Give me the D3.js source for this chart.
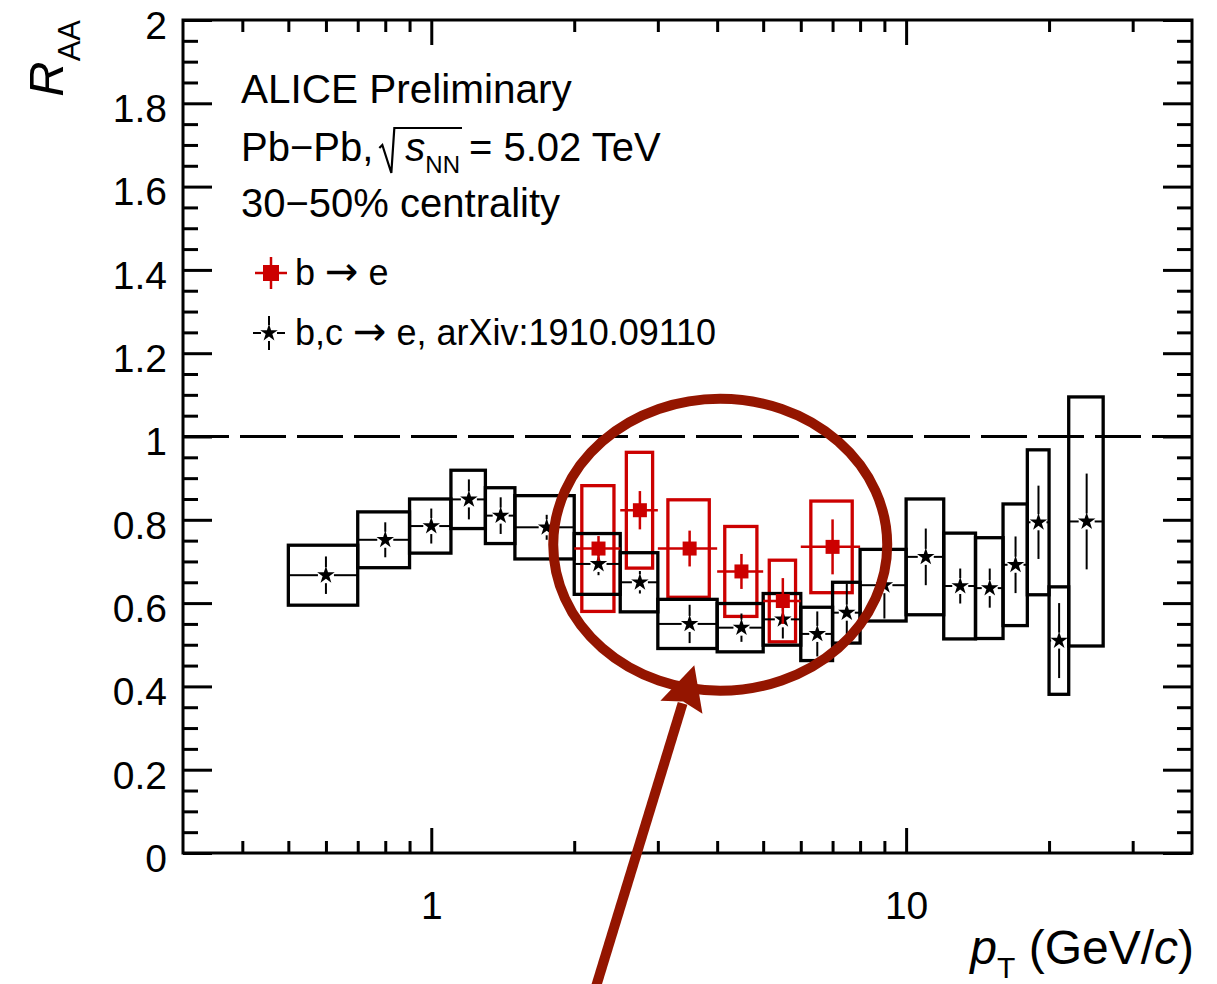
<!DOCTYPE html>
<html><head><meta charset="utf-8">
<script src="https://cdn.jsdelivr.net/npm/d3@7"></script>
<style>
html,body{margin:0;padding:0;background:#fff;}
svg{display:block;}
text{font-family:"Liberation Sans",Arial,Helvetica,sans-serif;fill:#000;}
</style></head><body>
<svg id="chart" width="1217" height="984"></svg>
<script>
// ---------- data ----------
// b,c -> e (arXiv:1910.09110), 30-50%
const bcBinLow  = [0.5,0.7,0.9,1.1,1.3,1.5,2,2.5,3,4,5,6,7,8,10,12,14,16,18,20,22];
const bcBinHigh = [0.7,0.9,1.1,1.3,1.5,2,2.5,3,4,5,6,7,8,10,12,14,16,18,20,22,26];
const bcRAA  = [0.667,0.752,0.785,0.849,0.810,0.782,0.694,0.650,0.550,0.541,0.561,0.526,0.577,0.643,0.711,0.641,0.636,0.692,0.794,0.510,0.796];
const bcStat = [0.045,0.042,0.042,0.048,0.044,0.030,0.027,0.027,0.046,0.034,0.046,0.054,0.070,0.080,0.068,0.042,0.047,0.068,0.088,0.090,0.115];
const bcSyst = [0.072,0.067,0.065,0.070,0.067,0.076,0.073,0.071,0.059,0.058,0.062,0.064,0.073,0.086,0.139,0.127,0.121,0.146,0.174,0.129,0.299];
// b -> e
const bBinLow  = [2,2.5,3,4,5,6];
const bBinHigh = [2.5,3,4,5,6,8];
const bRAA  = [0.731,0.823,0.731,0.676,0.605,0.735];
const bStat = [0.030,0.046,0.043,0.042,0.055,0.066];
const bSyst = [0.151,0.139,0.117,0.108,0.098,0.110];

const xDomain = [0.3, 40];
const yDomain = [0, 2];
const xMajorTicks = [1, 10];
const xTickLabels = ["1", "10"];
const xMinorTicks = [0.4,0.5,0.6,0.7,0.8,0.9,2,3,4,5,6,7,8,9,20,30];
const yMajorTicks = [0,0.2,0.4,0.6,0.8,1,1.2,1.4,1.6,1.8,2];
const yTickLabels = ["0","0.2","0.4","0.6","0.8","1","1.2","1.4","1.6","1.8","2"];
const yMinorTicks = [0.05,0.1,0.15,0.25,0.3,0.35,0.45,0.5,0.55,0.65,0.7,0.75,0.85,0.9,0.95,1.05,1.1,1.15,1.25,1.3,1.35,1.45,1.5,1.55,1.65,1.7,1.75,1.85,1.9,1.95];
const refLine = 1;
const infoLines = ["ALICE Preliminary", "30\u221250% centrality"];
const legendParts = [["b ", "\u2192", " e"], ["b,c ", "\u2192", " e, arXiv:1910.09110"]];
// annotation (data coords): ellipse centre and arrow tail/tip
const annotEllipse = {pt: 4.06, r: 0.74};
const annotArrow = {fromPt: 2.21, fromR: -0.33, toPt: 3.58, toR: 0.451};

// ---------- setup ----------
const FONT = '"Liberation Sans",Arial,Helvetica,sans-serif';
const RED = "#cc0000", DARKRED = "#941500";
const svg = d3.select("#chart");
const L = 183, R = 1192, T = 20, B = 853;
const x = d3.scaleLog().domain(xDomain).range([L, R]);
const y = d3.scaleLinear().domain(yDomain).range([B, T]);
const boxFrac = 0.7;

function styleAxis(g, fs) {
  g.attr("font-family", FONT).attr("font-size", fs || 39);
  g.select(".domain").remove();
  g.selectAll(".tick line").attr("stroke", "#000").attr("stroke-width", 3);
  g.selectAll(".tick text").attr("fill", "#000");
}

// axes
svg.append("g").attr("transform", `translate(0,${B})`)
  .call(d3.axisBottom(x).tickValues(xMajorTicks).tickSize(-25).tickPadding(38).tickFormat((d,i)=>xTickLabels[i]))
  .call(styleAxis);
svg.append("g").attr("transform", `translate(0,${B})`)
  .call(d3.axisBottom(x).tickValues(xMinorTicks).tickSize(-12).tickFormat(""))
  .call(styleAxis);
svg.append("g").attr("transform", `translate(0,${T})`)
  .call(d3.axisTop(x).tickValues(xMajorTicks).tickSize(-25).tickFormat(""))
  .call(styleAxis);
svg.append("g").attr("transform", `translate(0,${T})`)
  .call(d3.axisTop(x).tickValues(xMinorTicks).tickSize(-12).tickFormat(""))
  .call(styleAxis);
const yl = svg.append("g").attr("transform", `translate(${L},0)`)
  .call(d3.axisLeft(y).tickValues(yMajorTicks).tickSize(-29).tickPadding(16).tickFormat((d,i)=>yTickLabels[i]))
  .call(styleAxis);
yl.selectAll(".tick text").attr("dy", "0.47em");
svg.append("g").attr("transform", `translate(${L},0)`)
  .call(d3.axisLeft(y).tickValues(yMinorTicks).tickSize(-15).tickFormat(""))
  .call(styleAxis);
svg.append("g").attr("transform", `translate(${R},0)`)
  .call(d3.axisRight(y).tickValues(yMajorTicks).tickSize(-29).tickFormat(""))
  .call(styleAxis);
svg.append("g").attr("transform", `translate(${R},0)`)
  .call(d3.axisRight(y).tickValues(yMinorTicks).tickSize(-15).tickFormat(""))
  .call(styleAxis);

svg.append("rect").attr("x", L).attr("y", T).attr("width", R - L).attr("height", B - T)
  .attr("fill", "none").attr("stroke", "#000").attr("stroke-width", 3);

// reference line
svg.append("line").attr("x1", x(xDomain[0])).attr("x2", x(xDomain[1]))
  .attr("y1", y(refLine)).attr("y2", y(refLine))
  .attr("stroke", "#000").attr("stroke-width", 3).attr("stroke-dasharray", "46,11");

// data tables
const bc = bcRAA.map((v,i)=>({lo:bcBinLow[i], hi:bcBinHigh[i], c:(bcBinLow[i]+bcBinHigh[i])/2, v, stat:bcStat[i], syst:bcSyst[i]}));
const bb = bRAA.map((v,i)=>({lo:bBinLow[i], hi:bBinHigh[i], c:(bBinLow[i]+bBinHigh[i])/2, v, stat:bStat[i], syst:bSyst[i]}));

// red systematic boxes
svg.append("g").selectAll("rect").data(bb).join("rect")
  .attr("x", d => x(d.c - boxFrac*(d.hi-d.lo)/2))
  .attr("width", d => x(d.c + boxFrac*(d.hi-d.lo)/2) - x(d.c - boxFrac*(d.hi-d.lo)/2))
  .attr("y", d => y(d.v + d.syst)).attr("height", d => y(d.v - d.syst) - y(d.v + d.syst))
  .attr("fill", "none").attr("stroke", RED).attr("stroke-width", 3.3);

// black systematic boxes
svg.append("g").selectAll("rect").data(bc).join("rect")
  .attr("x", d => x(d.lo)).attr("width", d => x(d.hi) - x(d.lo))
  .attr("y", d => y(d.v + d.syst)).attr("height", d => y(d.v - d.syst) - y(d.v + d.syst))
  .attr("fill", "none").attr("stroke", "#000").attr("stroke-width", 3.3);

// black stat errors (with gap around marker)
const gap = 8;
const gE = svg.append("g").attr("stroke", "#000").attr("stroke-width", 2);
bc.forEach(d => {
  const cx = x(d.c), cy = y(d.v);
  const segs = [
    [x(d.lo), cy, cx - gap, cy], [cx + gap, cy, x(d.hi), cy],
    [cx, y(d.v + d.stat), cx, cy - gap], [cx, cy + gap, cx, y(d.v - d.stat)]
  ];
  segs.forEach(s => {
    if ((s[2]-s[0]) > 0 || (s[3]-s[1]) > 0)
      gE.append("line").attr("x1", s[0]).attr("y1", s[1]).attr("x2", s[2]).attr("y2", s[3]);
  });
});
const star = d3.symbol(d3.symbolStar, 95);
svg.append("g").selectAll("path").data(bc).join("path")
  .attr("d", star).attr("transform", d => `translate(${x(d.c)},${y(d.v)})`).attr("fill", "#000");

// red stat errors + squares
const gR = svg.append("g").attr("stroke", RED).attr("stroke-width", 2.5);
bb.forEach(d => {
  gR.append("line").attr("x1", x(d.lo)).attr("x2", x(d.hi)).attr("y1", y(d.v)).attr("y2", y(d.v));
  gR.append("line").attr("x1", x(d.c)).attr("x2", x(d.c)).attr("y1", y(d.v + d.stat)).attr("y2", y(d.v - d.stat));
});
const sq = 14;
svg.append("g").selectAll("rect").data(bb).join("rect")
  .attr("x", d => x(d.c) - sq/2).attr("y", d => y(d.v) - sq/2)
  .attr("width", sq).attr("height", sq).attr("fill", RED);

// ---------- texts ----------
const tx = 241;
svg.append("text").attr("x", tx).attr("y", 103).attr("font-size", 40.5).text(infoLines[0]);
// line 2 : Pb-Pb, sqrt(s_NN) = 5.02 TeV
{
  const base = 161;
  const t1 = svg.append("text").attr("x", tx).attr("y", base).attr("font-size", 40).text("Pb\u2212Pb,");
  const w1 = t1.node().getComputedTextLength();
  const xr = tx + w1 + 8;
  const ts = svg.append("text").attr("x", xr + 24).attr("y", base).attr("font-size", 40)
    .attr("font-style", "italic").text("s");
  const ws = ts.node().getComputedTextLength();
  const tn = svg.append("text").attr("x", xr + 24 + ws).attr("y", base + 12).attr("font-size", 24).text("NN");
  const wn = tn.node().getComputedTextLength();
  const xe = xr + 24 + ws + wn;
  svg.append("path")
    .attr("d", `M${xr-2},${base-13} L${xr+1},${base-16} L${xr+10},${base+12} L${xr+13},${base-33} L${xe+2},${base-33}`)
    .attr("fill", "none").attr("stroke", "#000").attr("stroke-width", 2.2).attr("stroke-linejoin", "miter");
  svg.append("text").attr("x", xe + 9).attr("y", base).attr("font-size", 40).text("= 5.02 TeV");
}
svg.append("text").attr("x", tx).attr("y", 217).attr("font-size", 40).text(infoLines[1]);

// legend
{
  const mx = 271, fs = 36, txL = 295;
  const r1 = 273, r2 = 333;
  const lg = svg.append("g");
  lg.append("line").attr("x1", mx - 16).attr("x2", mx + 16).attr("y1", r1).attr("y2", r1).attr("stroke", RED).attr("stroke-width", 2.5);
  lg.append("line").attr("x1", mx).attr("x2", mx).attr("y1", r1 - 16).attr("y2", r1 + 16).attr("stroke", RED).attr("stroke-width", 2.5);
  lg.append("rect").attr("x", mx - 8).attr("y", r1 - 8).attr("width", 16).attr("height", 16).attr("fill", RED);
  const m2 = mx - 2;
  [[m2 - 16, r2, m2 - gap, r2], [m2 + gap, r2, m2 + 16, r2], [m2, r2 - 17, m2, r2 - gap], [m2, r2 + gap, m2, r2 + 17]].forEach(s =>
    lg.append("line").attr("x1", s[0]).attr("y1", s[1]).attr("x2", s[2]).attr("y2", s[3]).attr("stroke", "#000").attr("stroke-width", 2));
  lg.append("path").attr("d", star).attr("transform", `translate(${m2},${r2})`).attr("fill", "#000");
  [r1, r2].forEach((ry, i) => {
    const t = lg.append("text").attr("x", txL).attr("y", ry + 12).attr("font-size", fs).attr("xml:space", "preserve");
    t.append("tspan").text(legendParts[i][0]);
    t.append("tspan").attr("font-family", '"DejaVu Sans",sans-serif').attr("font-size", 40).text(legendParts[i][1]);
    t.append("tspan").text(legendParts[i][2]);
  });
}

// axis titles
{
  const yt = svg.append("text").attr("transform", `translate(63,${T}) rotate(-90)`).attr("text-anchor", "end");
  yt.append("tspan").attr("font-size", 49).attr("font-style", "italic").text("R");
  yt.append("tspan").attr("font-size", 31).attr("dy", 17).text("AA");

  const xt = svg.append("text").attr("x", 1194).attr("y", 964).attr("text-anchor", "end").attr("font-size", 48);
  xt.append("tspan").attr("font-style", "italic").text("p");
  xt.append("tspan").attr("font-size", 30).attr("dy", 14).text("T");
  xt.append("tspan").attr("dy", -14).text(" (GeV/");
  xt.append("tspan").attr("font-style", "italic").text("c");
  xt.append("tspan").text(")");
}

// ---------- annotation ----------
{
  const ex = x(annotEllipse.pt), ey = y(annotEllipse.r);
  svg.append("ellipse").attr("cx", ex).attr("cy", ey).attr("rx", 167).attr("ry", 146)
    .attr("fill", "none").attr("stroke", DARKRED).attr("stroke-width", 10);
  const x0 = x(annotArrow.fromPt), y0 = y(annotArrow.fromR);
  const x1 = x(annotArrow.toPt), y1 = y(annotArrow.toR);
  const dx = x1 - x0, dy = y1 - y0, len = Math.hypot(dx, dy);
  const ux = dx / len, uy = dy / len, px = -uy, py = ux;
  const headL = 44, headW = 22;
  const bx = x1 - ux * headL, by = y1 - uy * headL;
  svg.append("line").attr("x1", x0).attr("y1", y0).attr("x2", bx + ux * 4).attr("y2", by + uy * 4)
    .attr("stroke", DARKRED).attr("stroke-width", 10);
  svg.append("path")
    .attr("d", `M${x1},${y1} L${bx + px*headW},${by + py*headW} L${bx + ux*6},${by + uy*6} L${bx - px*headW},${by - py*headW} Z`)
    .attr("fill", DARKRED);
}
</script>
</body></html>
